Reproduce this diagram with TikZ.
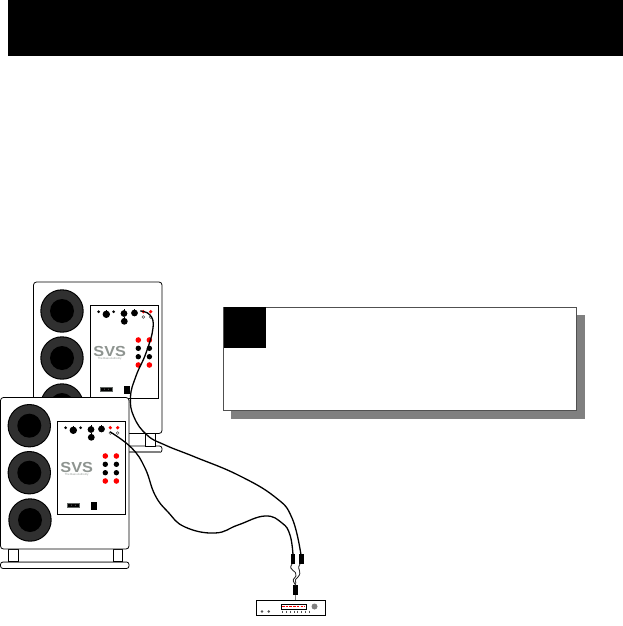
\documentclass[tikz,border=0pt]{standalone}
\usepackage{fontspec}
\setmainfont{Liberation Sans}
\definecolor{conegray}{HTML}{303030}
\definecolor{logogray}{HTML}{8E9490}
\definecolor{boxedge}{HTML}{505050}
\definecolor{shadowgray}{HTML}{808080}
\tikzset{
  x=1pt,y=-1pt,
  cabinet/.style={draw=black,fill=white,line width=0.8pt,rounded corners=3pt},
  foot/.style={draw=black,fill=white,line width=0.8pt},
  cable/.style={draw=black,line width=1.3pt,line cap=round},
  panelbox/.style={draw=black,fill=white,line width=0.9pt},
  knob/.style={fill=black,draw=none},
  redled/.style={fill=red,draw=none},
  openled/.style={draw=boxedge,fill=white,line width=0.5pt},
  plugbody/.style={fill=black,draw=none},
}
\newcommand{\woofer}[2]{%
  \fill[black] (#1,#2) circle[radius=21.7];
  \fill[conegray] (#1,#2) circle[radius=20.6];
  \fill[black] (#1,#2) circle[radius=12];
}
\newcommand{\ampanel}{%
  \draw[panelbox] (57.5,421.5) rectangle (125.5,514.5);
  \fill[knob] (65.7,427.7) circle[radius=1.5];
  \fill[knob] (80.7,427.7) circle[radius=1.5];
  \fill[knob] (73.3,430.3) circle[radius=3.7];
  \draw[black,line width=0.8pt] (73.3,430) -- (73.3,425.5);
  \foreach \kx/\ky in {91/429.5,91.3/437.3,101.5/429}{
    \fill[knob] (\kx,\ky) circle[radius=3.4];
    \draw[black,line width=0.8pt] (\kx,\ky) -- (\kx,\ky-4.3);
  }
  \foreach \kx in {110.3,117.7}{
    \fill[redled] (\kx,427.7) circle[radius=1.8];
    \draw[openled] (\kx,433) circle[radius=1.4];
  }
  \foreach \kx in {105.3,116.4}{
    \fill[redled] (\kx,456) circle[radius=2.8];
    \fill[knob] (\kx,464.3) circle[radius=2.7];
    \fill[knob] (\kx,472.7) circle[radius=2.7];
    \fill[redled] (\kx,481) circle[radius=2.8];
  }
  \node[text=logogray,inner sep=0pt,align=center,anchor=north,font=\bfseries\fontsize{14.5}{11}\selectfont] at (76.7,462.6) {\scalebox{1.12}[1]{SVS}\\[-8pt]{\mdseries\fontsize{2.8}{3}\selectfont The Bass Authority}};
  \fill[logogray!70!black] (67,502.7) rectangle (79.8,507.8);
  \fill[black] (68.2,503.9) rectangle (78.6,506.6);
  \fill[gray] (71.5,505.2) circle[radius=0.5] (75.3,505.2) circle[radius=0.5];
  \fill[black] (91,502) rectangle (96.8,509.8);
}
\begin{document}
\begin{tikzpicture}
\useasboundingbox (0,0) rectangle (623,626);
\fill[white] (0,0) rectangle (623,626);
% header
\fill[black] (8,0) rectangle (623,56);
% callout
\fill[shadowgray] (231,315) rectangle (585,419);
\draw[draw=boxedge,fill=white,line width=0.8pt] (223.5,307.5) rectangle (576.5,410);
\fill[black] (223.5,307) rectangle (266,348);
% rear subwoofer
\draw[cabinet,fill=white] (33.5,282) rectangle (162,433.5);
\draw[cabinet,rounded corners=2.5pt] (100,446) rectangle (162,452.5);
\draw[gray,line width=1.2pt] (100,452) -- (160,452);
\draw[foot] (145.5,433.5) rectangle (155.5,446);
\woofer{62}{311}
\woofer{62}{358}
\woofer{62}{405}
\begin{scope}[shift={(33,-116)}]
\ampanel
\end{scope}
\coordinate (rearjack) at (140.5,311);
\coordinate (rearplug) at (301,555);
\coordinate (frontjack) at (110.3,432);
\coordinate (frontplug) at (293,555);
% rear cable, passing under the front cabinet
\draw[cable] plot[smooth,tension=0.75] coordinates {(rearjack) (150,315) (153,328) (146,353) (136,376) (130.5,397) (134,417) (147,435) (165,445) (195,457) (238,475) (275,497) (292,518) (rearplug)};
% front subwoofer
\draw[foot] (8.5,549) rectangle (18.5,561);
\draw[foot] (113.5,549) rectangle (122.5,561);
\draw[cabinet] (0.5,397.5) rectangle (129,549);
\draw[cabinet,rounded corners=2.5pt] (0.5,562) rectangle (129,568.5);
\draw[gray,line width=1.5pt] (3,562.4) -- (126,562.4);
\woofer{29.3}{425.7}
\woofer{29.3}{472.7}
\woofer{30}{520}
\ampanel
% front cable
\draw[cable] plot[smooth,tension=0.75] coordinates {(frontjack) (131.7,448) (145,468) (155,495) (168,512) (185,527) (215,533) (238,525) (265,516) (282,523) (290,535) (frontplug)};
% plugs
\fill[plugbody] (291,554) rectangle (295,563.5);
\fill[plugbody] (299,554) rectangle (303.5,563.5);
\fill[plugbody] (293,585) rectangle (297.5,595);
\draw[gray,line width=1pt] (295.2,595) -- (295.2,600);
\coordinate (wa) at (292,564);
\coordinate (wb) at (300,564);
\coordinate (wc) at (295.5,585);
\draw[gray,line width=0.9pt] (wa) .. controls (287,571) and (298,570) .. (296,576) .. controls (294,580) and (291,578) .. (wc);
\draw[black,line width=0.4pt] (wa) .. controls (287,571) and (298,570) .. (296,576) .. controls (294,580) and (291,578) .. (wc);
\draw[gray,line width=0.9pt] (wb) .. controls (296,570) and (303,571) .. (298,577) .. controls (293,581) and (297,581) .. (wc);
\draw[black,line width=0.4pt] (wb) .. controls (296,570) and (303,571) .. (298,577) .. controls (293,581) and (297,581) .. (wc);
% receiver
\draw[draw=black,fill=white,line width=0.8pt] (256.5,600.5) rectangle (325.5,615.3);
\draw[draw=black,fill=white,line width=0.6pt] (281.3,604.6) rectangle (305.8,609);
\draw[red,line width=1pt,dash pattern=on 2.5pt off 1.2pt] (282,606.8) -- (305,606.8);
\fill[gray] (314.5,606.5) circle[radius=3];
\fill[boxedge] (262,611.5) circle[radius=1.4];
\fill[boxedge] (268.7,611.5) circle[radius=1.4];
\foreach \tx in {282.5,286.3,290.1,293.9,297.7,301.5,305.3,309.1}{
  \draw[boxedge,line width=0.7pt] (\tx,610.5) -- (\tx,612.5);
}
\end{tikzpicture}
\end{document}
